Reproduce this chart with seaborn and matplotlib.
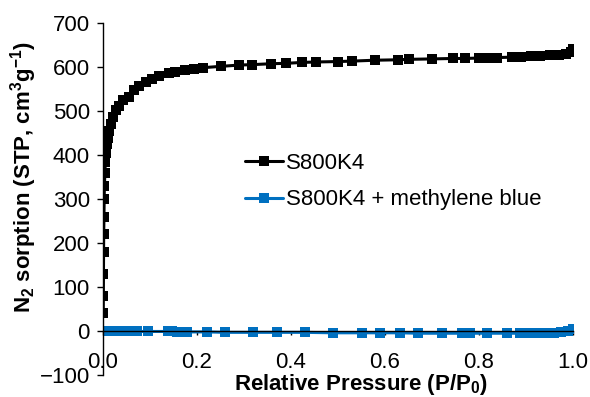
import matplotlib
matplotlib.use("Agg")
import matplotlib.pyplot as plt
import seaborn as sns

sns.set_style("white")
plt.rcParams['font.family'] = ['Liberation Sans', 'DejaVu Sans']
plt.rcParams['mathtext.default'] = 'regular'
for k in ['text.color', 'axes.labelcolor', 'xtick.color', 'ytick.color', 'axes.edgecolor']:
    plt.rcParams[k] = 'black'

# Data
s800k4_x = [0.0005, 0.0007, 0.001, 0.0012, 0.0015, 0.002, 0.0025, 0.003, 0.004, 0.005,
            0.006, 0.008, 0.010, 0.013, 0.017, 0.021, 0.027, 0.034, 0.043, 0.055,
            0.067, 0.077, 0.092, 0.104, 0.12, 0.14, 0.154, 0.174, 0.193, 0.212,
            0.25, 0.29, 0.318, 0.357, 0.39, 0.424, 0.453, 0.5, 0.53, 0.578,
            0.627, 0.65, 0.7, 0.745, 0.77, 0.8, 0.82, 0.838, 0.87, 0.89,
            0.91, 0.93, 0.95, 0.97, 0.985, 0.995, 1.0]
s800k4_y = [40, 80, 130, 180, 220, 260, 300, 330, 360, 385,
            405, 425, 440, 455, 470, 488, 502, 513, 525, 533,
            548, 558, 567, 574, 581, 587, 590, 594, 597, 599,
            602, 605, 606, 608, 609, 611, 612, 613, 614, 616,
            617, 618, 619, 620, 620, 621, 621, 622, 623, 624,
            625, 626, 627, 628, 630, 635, 642]

mb_x = [0.002, 0.005, 0.008, 0.015, 0.022, 0.036, 0.05, 0.072, 0.096, 0.138,
        0.147, 0.157, 0.179, 0.221, 0.26, 0.319, 0.37, 0.43, 0.49, 0.55,
        0.59, 0.632, 0.67, 0.721, 0.764, 0.781, 0.817, 0.86, 0.887, 0.905,
        0.925, 0.945, 0.96, 0.975, 0.99, 1.0]
mb_y = [0, 0, 0, 0, 0, -1, -1, -1, -1, -1,
        -1, -2, -2, -2, -3, -3, -3, -3, -4, -4,
        -4, -4, -5, -5, -5, -5, -5, -5, -5, -5,
        -5, -4, -4, -3, -1, 4]

labels = ["S800K4", "S800K4 + methylene blue"]
yticks = [-100, 0, 100, 200, 300, 400, 500, 600, 700]
xticks = [0.0, 0.2, 0.4, 0.6, 0.8, 1.0]

fig = plt.figure(figsize=(5.9, 3.97), dpi=100)
L, R, T, B = 103 / 590, 573 / 590, 1 - 23.3 / 397, 1 - 375 / 397
ax = fig.add_axes([L, B, R - L, T - B])

sns.lineplot(x=s800k4_x, y=s800k4_y, ax=ax, color="black", marker="s",
             markersize=7, markeredgewidth=0, linewidth=2.2, label=labels[0],
             estimator=None, sort=False)
sns.lineplot(x=mb_x, y=mb_y, ax=ax, color="#0070C0", marker="s",
             markersize=7, markeredgewidth=0, linewidth=2.2, label=labels[1],
             estimator=None, sort=False)

ax.set_xlim(0, 1.0)
ax.set_ylim(-100, 700)
ax.set_yticks(yticks)
ax.set_xticks(xticks)
ax.set_xticklabels([f"{t:.1f}" for t in xticks])

for s in ["top", "right"]:
    ax.spines[s].set_visible(False)
ax.spines["bottom"].set_position(("data", 0))
for s in ["bottom", "left"]:
    ax.spines[s].set_color("black")
    ax.spines[s].set_linewidth(1.0)

ax.tick_params(axis="y", direction="out", length=4.5, width=1, labelsize=16, pad=5,
               left=True, colors="black")
ax.tick_params(axis="x", direction="out", length=3, width=1, labelsize=16, pad=12,
               bottom=True, colors="black")

ax.set_xlabel("Relative Pressure (P/P$_0$)", fontsize=16, fontweight="bold", va="center",
              color="black")
ax.xaxis.set_label_coords(0.549, -0.028)
ax.set_ylabel("N$_2$ sorption (STP, cm$^3$g$^{-1}$)", fontsize=16, fontweight="bold",
              va="center", color="black")
ax.yaxis.set_label_coords(-0.168, 0.564)

leg = ax.legend(loc="center left", bbox_to_anchor=(0.302, 0.55), frameon=False,
                fontsize=16, handlelength=1.7, handletextpad=0.15, labelspacing=0.7,
                borderaxespad=0, borderpad=0)
for t in leg.get_texts():
    t.set_color("black")

fig.savefig("out.png", dpi=100)
